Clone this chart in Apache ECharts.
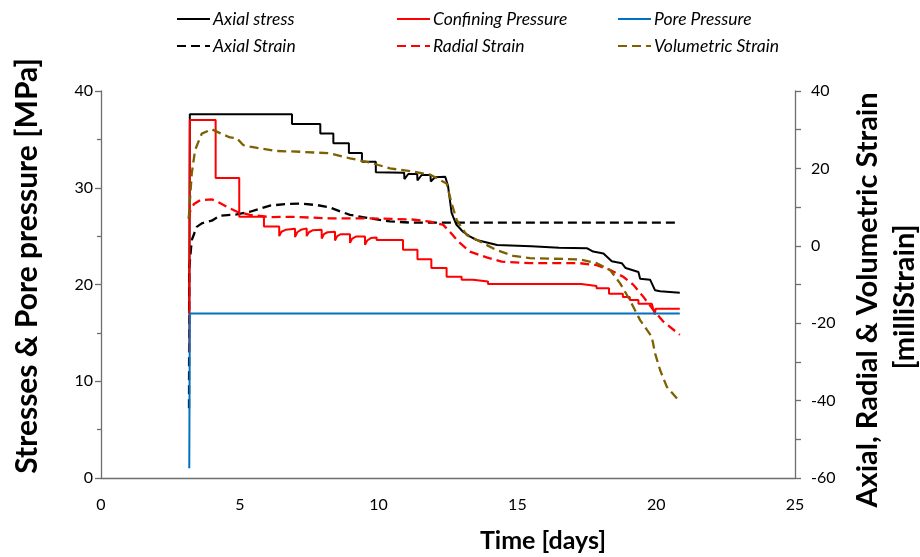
<!DOCTYPE html>
<html>
<head>
<meta charset="utf-8">
<script src="https://cdn.jsdelivr.net/npm/echarts@6/dist/echarts.min.js"></script>
<style>
  html, body { margin: 0; padding: 0; background: #fff; }
  #chart { width: 920px; height: 557px; }
</style>
</head>
<body>
<div id="chart"></div>
<script>
// Time [days] vs stresses (MPa, left axis) and strains (milliStrain, right axis)
const xTicks = { min: 0, max: 25, interval: 5 };
const leftTicks = { min: 0, max: 40, interval: 10 };
const rightTicks = { min: -60, max: 40, interval: 20 };

const axialStress = [
  [3.18, 17.0], [3.2, 37.6], [6.88, 37.6], [6.88, 36.6], [7.9, 36.6], [7.9, 35.6],
  [8.37, 35.6], [8.37, 34.6], [8.93, 34.6], [8.93, 33.6], [9.4, 33.6], [9.4, 32.7],
  [9.9, 32.7], [9.9, 31.6], [10.92, 31.56], [10.93, 30.9], [11.07, 31.42], [11.39, 31.42],
  [11.4, 30.75], [11.55, 31.32], [11.87, 31.32], [11.88, 30.65], [12.03, 31.08], [12.4, 31.14],
  [12.5, 30.2], [12.58, 28.5], [12.63, 27.4], [12.8, 26.2], [13.04, 25.45], [13.3, 24.95],
  [13.53, 24.6], [14.27, 24.08], [15.5, 23.95], [16.5, 23.8], [17.5, 23.75], [17.73, 23.4],
  [18.1, 23.2], [18.4, 22.4], [18.76, 22.2], [18.9, 21.7], [19.36, 21.3], [19.42, 20.6],
  [19.78, 20.5], [19.96, 19.4], [20.14, 19.3], [20.85, 19.15]
];

const confiningPressure = [
  [3.18, 13.0], [3.2, 37.0], [4.13, 37.0], [4.13, 31.0], [4.98, 31.0], [4.98, 27.0],
  [5.87, 27.0], [5.87, 26.0], [6.42, 26.0],
  [6.42, 25.0], [6.5, 25.45], [6.65, 25.65], [6.99, 25.75],
  [6.99, 24.9], [7.07, 25.4], [7.2, 25.65], [7.41, 25.8],
  [7.41, 25.0], [7.49, 25.4], [7.62, 25.6], [7.95, 25.65],
  [7.95, 24.75], [8.03, 25.2], [8.16, 25.4], [8.43, 25.45],
  [8.43, 24.55], [8.51, 25.0], [8.64, 25.2], [8.97, 25.2],
  [8.97, 24.3], [9.05, 24.75], [9.18, 24.95], [9.51, 24.95],
  [9.51, 24.1], [9.59, 24.55], [9.72, 24.8], [9.93, 24.85],
  [9.93, 24.6], [10.88, 24.6], [10.88, 23.6], [11.4, 23.6], [11.4, 22.6], [11.9, 22.6],
  [11.9, 21.7], [12.45, 21.7], [12.45, 20.8], [12.99, 20.8], [12.99, 20.5], [13.4, 20.5],
  [13.4, 20.3], [13.94, 20.3], [13.94, 20.05], [17.3, 20.05], [17.3, 19.85], [17.85, 19.85],
  [17.85, 19.6], [18.3, 19.6], [18.3, 19.05], [18.8, 19.05], [18.8, 18.7], [19.05, 18.7],
  [19.05, 18.4], [19.36, 18.4], [19.36, 18.0], [19.84, 18.0], [19.95, 16.9], [19.98, 17.5],
  [20.85, 17.5]
];

const porePressure = [
  [3.18, 1.0], [3.2, 17.0], [12.99, 17.0], [12.99, 17.2], [13.0, 17.0], [14.43, 17.0],
  [14.43, 17.2], [14.44, 17.0], [18.05, 17.0], [18.05, 17.2], [18.06, 17.0], [18.76, 17.0],
  [18.76, 17.2], [18.77, 17.0], [20.85, 17.0]
];

const axialStrain = [
  [3.17, -42.0], [3.18, -5.8], [3.27, 1.5], [3.45, 4.9], [3.63, 5.8], [3.99, 6.5],
  [4.29, 7.8], [4.89, 8.1], [5.37, 8.8], [6.09, 10.4], [6.69, 10.8], [7.2, 10.9],
  [7.8, 10.5], [8.25, 9.9], [8.61, 8.9], [8.97, 8.0], [9.69, 7.1], [10.41, 6.3],
  [11.13, 6.0], [20.85, 6.0]
];

const radialStrain = [
  [3.16, 7.0], [3.22, 9.2], [3.35, 10.8], [3.57, 11.8], [3.99, 12.0], [4.25, 11.2],
  [4.53, 10.1], [4.9, 8.8], [5.37, 8.0], [6.09, 7.4], [6.8, 7.5], [8.25, 7.1],
  [9.69, 7.1], [11.2, 6.8], [11.85, 6.25], [12.33, 5.4], [12.57, 3.6], [12.87, 1.1],
  [13.29, -1.5], [13.89, -3.0], [14.43, -4.1], [15.45, -4.5], [17.25, -4.5], [17.86, -5.0],
  [18.34, -6.25], [18.81, -8.0], [19.18, -10.1], [19.54, -13.2], [19.9, -16.6], [20.26, -19.6],
  [20.85, -23.0]
];

const volumetricStrain = [
  [3.16, 7.1], [3.27, 18.7], [3.39, 24.75], [3.63, 29.0], [3.99, 30.1], [4.17, 29.5],
  [4.65, 28.0], [4.89, 27.8], [5.13, 26.0], [5.37, 25.6], [6.33, 24.5], [7.17, 24.3],
  [8.25, 23.9], [8.97, 22.6], [9.69, 21.5], [10.41, 20.0], [11.13, 19.3], [11.85, 18.4],
  [12.45, 16.1], [12.63, 11.0], [12.81, 6.7], [13.17, 2.8], [13.65, 1.1], [14.25, -1.1],
  [14.85, -2.6], [15.45, -3.2], [17.25, -3.5], [17.86, -4.5], [18.34, -6.25], [18.7, -9.7],
  [19.05, -14.0], [19.42, -19.2], [19.84, -23.5], [19.96, -27.8], [20.14, -32.1], [20.38, -36.4],
  [20.85, -40.3]
];

const FONT = 'Lato, "Open Sans", sans-serif';
const AXIS_COLOR = '#6e6e6e';
const DASH = [9, 5];

function lineSeries(name, data, color, yIndex, dashed, z) {
  return {
    name: name,
    type: 'line',
    data: data,
    yAxisIndex: yIndex,
    showSymbol: false,
    symbol: 'none',
    animation: false,
    z: z,
    lineStyle: { color: color, width: dashed ? 2.3 : 2, type: dashed ? DASH : 'solid', cap: 'butt' },
    itemStyle: { color: color },
    emphasis: { disabled: true }
  };
}

function legendColumn(left, names) {
  return {
    left: left,
    top: 10,
    padding: 0,
    orient: 'vertical',
    itemWidth: 33,
    itemHeight: 14,
    itemGap: 9,
    selectedMode: false,
    data: names,
    // line sample only, no marker in the middle
    itemStyle: { color: 'rgba(0,0,0,0)', borderColor: 'rgba(0,0,0,0)', borderWidth: 0, opacity: 0 },
    textStyle: { fontFamily: FONT, fontStyle: 'italic', fontSize: 17.5, color: '#000', padding: [0, 0, 0, -2] }
  };
}

function titleText(text, x, y, size, rotated) {
  return {
    type: 'text',
    x: x,
    y: y,
    rotation: rotated ? Math.PI / 2 : 0,
    silent: true,
    style: {
      text: text,
      fontFamily: FONT,
      fontWeight: 'bold',
      fontSize: size,
      fill: '#000',
      align: 'center',
      verticalAlign: 'middle'
    }
  };
}

const chart = echarts.init(document.getElementById('chart'), null, { renderer: 'canvas' });

chart.setOption({
  backgroundColor: '#ffffff',
  animation: false,
  grid: { left: 101, right: 125, top: 91, bottom: 79, containLabel: false, outerBoundsMode: 'none' },
  legend: [
    legendColumn(176, ['Axial stress', 'Axial Strain']),
    legendColumn(396, ['Confining Pressure', 'Radial Strain']),
    legendColumn(617, ['Pore Pressure', 'Volumetric Strain'])
  ],
  graphic: [
    titleText('Stresses & Pore pressure [MPa]', 27, 266, 30, true),
    titleText('Axial, Radial & Volumetric Strain', 868, 300, 29, true),
    titleText('[milliStrain]', 905, 297, 29, true),
    titleText('Time [days]', 543, 541, 25, false)
  ],
  xAxis: {
    type: 'value',
    min: xTicks.min, max: xTicks.max, interval: xTicks.interval,
    axisLine: { show: true, lineStyle: { color: AXIS_COLOR, width: 1.3 } },
    axisTick: { show: false },
    splitLine: { show: false },
    axisLabel: { fontFamily: FONT, fontSize: 16, color: '#000', margin: 19 }
  },
  yAxis: [
    {
      type: 'value',
      min: leftTicks.min, max: leftTicks.max, interval: leftTicks.interval,
      axisLine: { show: true, lineStyle: { color: AXIS_COLOR, width: 1.3 } },
      axisTick: { show: true, length: 6, lineStyle: { color: AXIS_COLOR, width: 1.3 } },
      minorTick: { show: true, splitNumber: 2, length: 4, lineStyle: { color: AXIS_COLOR, width: 1.3 } },
      splitLine: { show: false },
      axisLabel: { fontFamily: FONT, fontSize: 16, color: '#000', margin: 8 }
    },
    {
      type: 'value',
      position: 'right',
      min: rightTicks.min, max: rightTicks.max, interval: rightTicks.interval,
      axisLine: { show: true, lineStyle: { color: AXIS_COLOR, width: 1.3 } },
      axisTick: { show: true, length: 6, lineStyle: { color: AXIS_COLOR, width: 1.3 } },
      minorTick: { show: true, splitNumber: 2, length: 6, lineStyle: { color: AXIS_COLOR, width: 1.3 } },
      splitLine: { show: false },
      axisLabel: { fontFamily: FONT, fontSize: 16, color: '#000', margin: 16 }
    }
  ],
  series: [
    lineSeries('Axial stress', axialStress, '#000000', 0, false, 3),
    lineSeries('Confining Pressure', confiningPressure, '#ff0000', 0, false, 3),
    lineSeries('Pore Pressure', porePressure, '#0070c0', 0, false, 3),
    lineSeries('Axial Strain', axialStrain, '#000000', 1, true, 2),
    lineSeries('Radial Strain', radialStrain, '#ff0000', 1, true, 4),
    lineSeries('Volumetric Strain', volumetricStrain, '#7f6000', 1, true, 4)
  ]
});
</script>
</body>
</html>
